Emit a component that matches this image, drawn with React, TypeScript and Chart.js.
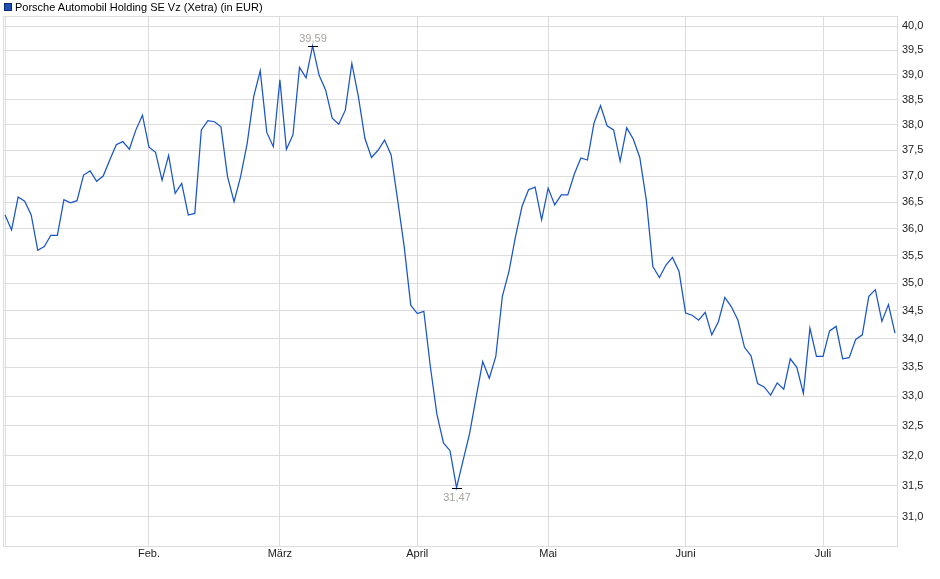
import React, { useEffect, useRef } from "react";
import { Chart, registerables } from "chart.js";

Chart.register(...registerables);

const title = "Porsche Automobil Holding SE Vz (Xetra) (in EUR)";

// daily closing prices (trading days, Jan 2 .. mid July)
const prices: number[] = [
  36.26, 35.98, 36.6, 36.52, 36.26, 35.6, 35.67, 35.88, 35.88, 36.55,
  36.49, 36.53, 37.02, 37.1, 36.9, 37.0, 37.31, 37.61, 37.67, 37.52,
  37.9, 38.19, 37.56, 37.46, 36.92, 37.4, 36.67, 36.86, 36.26, 36.29,
  37.9, 38.08, 38.06, 37.96, 36.99, 36.51, 36.99, 37.63, 38.56, 39.08,
  37.85, 37.57, 38.9, 37.52, 37.8, 39.15, 38.94, 39.59, 38.99, 38.69,
  38.13, 38.01, 38.29, 39.23, 38.56, 37.73, 37.36, 37.5, 37.7, 37.41,
  36.54, 35.67, 34.6, 34.45, 34.49, 33.51, 32.69, 32.21, 32.08, 31.47,
  31.92, 32.37, 32.99, 33.6, 33.31, 33.69, 34.76, 35.21, 35.85, 36.42,
  36.74, 36.79, 36.17, 36.77, 36.45, 36.64, 36.64, 37.04, 37.35, 37.31,
  38.03, 38.38, 37.98, 37.9, 37.29, 37.94, 37.72, 37.36, 36.54, 35.3,
  35.1, 35.33, 35.47, 35.21, 34.46, 34.42, 34.33, 34.47, 34.07, 34.3,
  34.74, 34.57, 34.33, 33.85, 33.7, 33.22, 33.16, 33.02, 33.23, 33.12,
  33.65, 33.5, 33.05, 34.19, 33.69, 33.69, 34.14, 34.22, 33.65, 33.67,
  33.99, 34.07, 34.76, 34.88, 34.31, 34.61, 34.1,
];

// index of the first trading day of each month, and its label
const monthStartIndex: number[] = [0, 22, 42, 63, 83, 104, 125];
const monthLabels: string[] = ["", "Feb.", "März", "April", "Mai", "Juni", "Juli"];

// y-axis tick values
const yTickValues: number[] = [
  31.0, 31.5, 32.0, 32.5, 33.0, 33.5, 34.0, 34.5, 35.0, 35.5, 36.0, 36.5,
  37.0, 37.5, 38.0, 38.5, 39.0, 39.5, 40.0,
];

const FONT = "'Liberation Sans', Arial, sans-serif";
const GRID = "#dcdcdc";
const LINE = "#1a55c8";

const fmt = (v: number, d: number) => v.toFixed(d).replace(".", ",");

const framePlugin = {
  id: "frame",
  beforeDatasetsDraw(chart: any) {
    const { ctx, chartArea } = chart;
    ctx.save();
    ctx.strokeStyle = GRID;
    ctx.lineWidth = 1;
    ctx.strokeRect(
      Math.round(chartArea.left) + 0.5,
      Math.round(chartArea.top) + 0.5,
      Math.round(chartArea.right - chartArea.left) - 1,
      Math.round(chartArea.bottom - chartArea.top)
    );
    ctx.restore();
  },
};

const extremaPlugin = {
  id: "extrema",
  afterDatasetsDraw(chart: any) {
    const { ctx, scales } = chart;
    let maxI = 0;
    let minI = 0;
    prices.forEach((v, i) => {
      if (v > prices[maxI]) maxI = i;
      if (v < prices[minI]) minI = i;
    });
    ctx.save();
    ctx.font = `11px ${FONT}`;
    ctx.textAlign = "center";
    const draw = (i: number, above: boolean) => {
      const x = Math.round(scales.x.getPixelForValue(i));
      const y = Math.round(scales.y.getPixelForValue(prices[i]));
      ctx.strokeStyle = "#000";
      ctx.lineWidth = 1;
      ctx.beginPath();
      ctx.moveTo(x - 5, y + 0.5);
      ctx.lineTo(x + 5, y + 0.5);
      ctx.stroke();
      ctx.fillStyle = "#a8a29c";
      ctx.textBaseline = above ? "bottom" : "top";
      ctx.fillText(fmt(prices[i], 2), x, above ? y - 2 : y + 4);
    };
    draw(maxI, true);
    draw(minI, false);
    ctx.restore();
  },
};

export default function App() {
  const ref = useRef<HTMLCanvasElement | null>(null);

  useEffect(() => {
    if (!ref.current) return;
    const chart = new Chart(ref.current, {
      type: "line",
      data: {
        datasets: [
          {
            label: title,
            data: prices.map((v, i) => ({ x: i, y: v })),
            borderColor: LINE,
            backgroundColor: LINE,
            borderWidth: 1.25,
            pointRadius: 0,
            tension: 0,
            fill: false,
          },
        ],
      },
      options: {
        animation: false,
        responsive: false,
        events: [],
        layout: { padding: { left: 3, top: 16, right: 0, bottom: 0 } },
        plugins: {
          legend: { display: false },
          tooltip: { enabled: false },
        },
        scales: {
          x: {
            type: "linear",
            min: -0.31,
            max: prices.length - 1 + 0.46,
            afterBuildTicks: (scale: any) => {
              scale.ticks = monthStartIndex.map((v) => ({ value: v }));
            },
            afterFit: (scale: any) => {
              scale.height = 33;
            },
            grid: { color: GRID, drawTicks: false, lineWidth: 1 },
            border: { display: false },
            ticks: {
              autoSkip: false,
              maxRotation: 0,
              padding: 1,
              color: "#222",
              font: { family: FONT, size: 11 },
              callback: (value: any) => {
                const k = monthStartIndex.indexOf(Number(value));
                return k >= 0 ? monthLabels[k] : "";
              },
            },
          },
          y: {
            type: "logarithmic",
            position: "right",
            min: 30.53,
            max: 40.21,
            afterBuildTicks: (scale: any) => {
              scale.ticks = yTickValues.map((v) => ({ value: v }));
            },
            afterFit: (scale: any) => {
              scale.width = 42;
            },
            grid: { color: GRID, drawTicks: false, lineWidth: 1 },
            border: { display: false },
            ticks: {
              autoSkip: false,
              padding: 4,
              color: "#222",
              font: { family: FONT, size: 11 },
              callback: (value: any) => fmt(Number(value), 1),
            },
          },
        },
      },
      plugins: [framePlugin, extremaPlugin],
    } as any);
    return () => chart.destroy();
  }, []);

  return (
    <div style={{ position: "absolute", left: 0, top: 0, width: 940, height: 579, background: "#fff" }}>
      <div
        style={{
          position: "absolute",
          left: 4,
          top: 0,
          height: 13,
          display: "flex",
          alignItems: "center",
          fontFamily: FONT,
          fontSize: 11,
          color: "#000",
          whiteSpace: "nowrap",
        }}
      >
        <span
          style={{
            display: "inline-block",
            width: 6,
            height: 6,
            background: "#1f4fb0",
            border: "1px solid #0a2a70",
            marginRight: 3,
          }}
        />
        <span>{title}</span>
      </div>
      <canvas ref={ref} width={940} height={579} style={{ display: "block" }} />
    </div>
  );
}
